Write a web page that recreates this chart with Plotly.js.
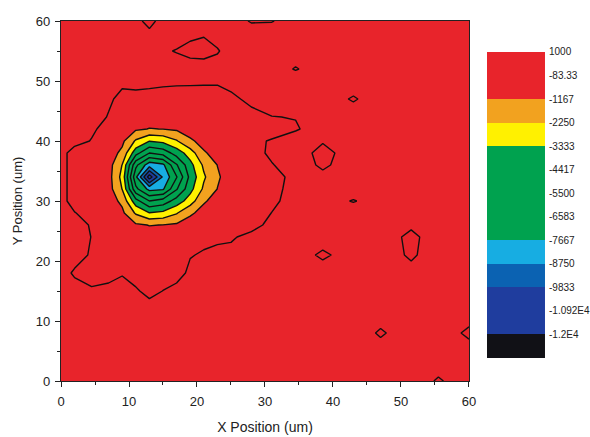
<!DOCTYPE html>
<html><head><meta charset="utf-8">
<script src="https://cdn.plot.ly/plotly-3.0.1.min.js"></script>
<style>html,body{margin:0;padding:0;background:#fff;} #chart{width:590px;height:437px;}</style>
</head><body><div id="chart"></div>
<script>
// grid positions (um)
const xPos = [0, 2, 4.5, 7, 9, 11, 13, 15, 17, 19, 21, 23, 25, 28, 31, 34.5, 38.5, 43, 47, 51.5, 55.5, 60];
const yPos = [0, 4, 8, 12, 15, 18, 21, 24, 26, 28, 30, 32, 34, 36, 38, 40, 42, 44, 47, 50, 52, 55, 58, 60];
// z values, one row per y position
const zRows = [
 [250,250,250,250,250,250,250,250,250,250,250,250,250,250,250,250,250,250,250,250,-150,250],
 [250,250,250,250,250,250,250,250,250,250,250,250,250,250,250,250,250,250,250,250,250,250],
 [250,250,250,250,250,250,250,250,250,250,250,250,250,250,250,250,250,250,-160,250,250,-200],
 [250,250,250,250,250,250,250,250,250,250,250,250,250,250,250,250,250,250,250,250,250,250],
 [250,250,50,250,250,20,-330,-70,250,250,250,250,250,250,250,250,250,250,250,250,250,250],
 [250,-200,-500,-500,-150,-430,-500,-500,-500,140,250,250,250,250,250,250,250,250,250,250,250,250],
 [250,250,-180,-500,-500,-500,-500,-500,-500,-140,20,250,250,250,250,250,-210,250,500,-250,500,250],
 [250,250,-100,-550,-550,-680,-750,-730,-680,-610,-335,-325,-225,250,250,250,250,250,500,-350,500,250],
 [250,250,-160,-550,-700,-1010,-1200,-1150,-1000,-820,-680,-570,-550,-500,250,250,250,250,250,100,250,250],
 [250,-40,-500,-580,-940,-2390,-3300,-3060,-2340,-1290,-910,-690,-560,-500,-70,250,250,250,250,250,250,250],
 [250,-500,-500,-655,-1410,-4000,-5500,-5050,-3950,-2800,-1250,-900,-630,-500,-255,250,250,-130,250,250,250,250],
 [250,-500,-500,-725,-2280,-6300,-8000,-7800,-5600,-3700,-2050,-1150,-690,-500,-370,250,250,250,250,250,250,250],
 [250,-500,-500,-750,-2600,-7400,-11500,-8600,-6650,-4100,-2400,-1300,-700,-500,-500,250,150,250,250,250,250,250],
 [250,-500,-500,-725,-2280,-6300,-8300,-7900,-5600,-3700,-2050,-1150,-690,-500,-140,400,-250,400,250,250,250,250],
 [250,-500,-500,-655,-1410,-4000,-5500,-5050,-3950,-2800,-1250,-900,-630,-450,100,400,-400,400,250,250,250,250],
 [250,250,-130,-580,-940,-2390,-3300,-3060,-2340,-1290,-910,-690,-560,-310,0,250,0,250,250,250,250,250],
 [250,250,60,-400,-700,-1010,-1200,-1150,-1000,-820,-680,-570,-550,-500,-500,-150,250,250,250,250,250,250],
 [250,250,250,-130,-550,-680,-750,-730,-680,-610,-550,-550,-550,-500,-100,-60,250,250,250,250,250,250],
 [250,250,250,30,-275,-400,-400,-400,-400,-400,-400,-400,-380,250,250,250,250,-150,250,250,250,250],
 [250,250,250,250,60,230,150,70,35,25,15,10,360,250,250,250,250,250,250,250,250,250],
 [250,250,250,250,250,250,250,250,250,250,250,250,250,250,250,-130,250,250,250,250,250,250],
 [250,250,250,250,250,250,250,0,-120,-300,-350,-150,250,250,250,250,250,250,250,250,250,250],
 [250,250,250,250,250,250,100,250,250,100,0,250,250,250,250,250,250,250,250,250,250,250],
 [250,250,250,250,250,200,-400,300,250,250,250,250,250,-150,-120,250,250,250,250,250,250,250]
];
// contour levels (top to bottom) and their labels
const levelValues = [1000, -83.333, -1166.667, -2250, -3333.333, -4416.667, -5500, -6583.333, -7666.667, -8750, -9833.333, -10916.667, -12000];
const levelLabels = ['1000', '-83.33', '-1167', '-2250', '-3333', '-4417', '-5500', '-6583', '-7667', '-8750', '-9833', '-1.092E4', '-1.2E4'];
// band colours, lowest band first
const bandColors = ['#111116', '#1f3d9e', '#1f3d9e', '#0b62b2', '#17ade2', '#00a24f', '#00a24f', '#00a24f', '#00a24f', '#fff100', '#f2a21f', '#e8242b', '#e8242b'];

const colorscale = bandColors.map((c, i) => [i / (bandColors.length - 1), c]);
const step = levelValues[0] - levelValues[1];
// colour-bar band edges: one band below the lowest level, then every level
const bandEdges = [levelValues[12] - step].concat(levelValues.slice().reverse());
const bandIndex = bandColors.map((c, i) => [i]);

const contourTrace = {
  type: 'contour',
  x: xPos, y: yPos, z: zRows,
  autocontour: false,
  contours: {start: levelValues[12], end: levelValues[1], size: step, coloring: 'fill', showlines: true},
  colorscale: colorscale,
  showscale: false,
  line: {color: '#111', width: 1.4, smoothing: 0},
  hoverinfo: 'skip'
};

const barTrace = {
  type: 'heatmap',
  x: [0, 1], y: bandEdges, z: bandIndex,
  xaxis: 'x2', yaxis: 'y2',
  colorscale: colorscale, zmin: 0, zmax: bandColors.length - 1,
  showscale: false, hoverinfo: 'skip'
};

const axisBase = {
  range: [0, 60], tick0: 0, dtick: 10, ticks: 'outside', ticklen: 5, tickwidth: 1, tickcolor: '#222',
  showline: true, linecolor: '#222', linewidth: 1.2, mirror: true, showgrid: false, zeroline: false,
  automargin: false, tickfont: {size: 13, color: '#222'},
  minor: {dtick: 5, ticks: 'outside', ticklen: 3, tickcolor: '#222', showgrid: false}
};

const layout = {
  width: 590, height: 437,
  margin: {l: 61, r: 4, t: 21, b: 56},
  paper_bgcolor: '#fff', plot_bgcolor: '#fff',
  font: {family: 'Arial, "Liberation Sans", sans-serif', color: '#222'},
  showlegend: false,
  xaxis: Object.assign({}, axisBase, {domain: [0, 0.7771], ticklabelstandoff: 3,
    title: {text: 'X Position (um)', font: {size: 14}, standoff: 14}}),
  yaxis: Object.assign({}, axisBase, {domain: [0, 1], ticklabelstandoff: 2,
    title: {text: 'Y Position (um)', font: {size: 13}, standoff: 10}}),
  xaxis2: {domain: [0.8114, 0.9219], range: [0, 1], anchor: 'y2', visible: false, fixedrange: true},
  yaxis2: {domain: [0.0639, 0.9139], range: [bandEdges[0], levelValues[0]], anchor: 'x2', side: 'right',
    tickmode: 'array', tickvals: levelValues, ticktext: levelLabels, ticks: '', showline: false,
    showgrid: false, zeroline: false, automargin: false, ticklabelstandoff: 3,
    tickfont: {size: 10, color: '#222'}}
};

Plotly.newPlot('chart', [contourTrace, barTrace], layout, {displayModeBar: false, staticPlot: true});
</script>
</body></html>
